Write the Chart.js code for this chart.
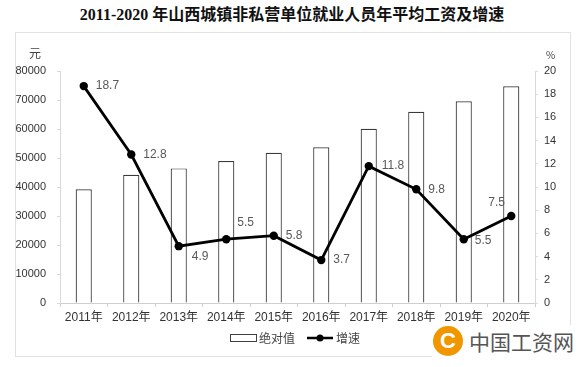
<!DOCTYPE html>
<html><head><meta charset="utf-8">
<script src="https://cdn.jsdelivr.net/npm/chart.js@4.4.1/dist/chart.umd.min.js"></script>
<style>
html,body{margin:0;padding:0;background:#fff;}
#wrap{position:relative;width:584px;height:367px;overflow:hidden;}
#title{position:absolute;left:0;top:5px;width:584px;text-align:center;font:bold 16px "Liberation Serif","Noto Sans CJK SC",serif;color:#111;line-height:20px;}
#box{position:absolute;left:15px;top:32px;width:556px;height:325px;border:1px solid #e2e2e2;box-sizing:border-box;}
#c{position:absolute;left:0;top:0;}
.ut{position:absolute;font:12px "Noto Sans CJK SC",sans-serif;color:#444;}
#wm{position:absolute;left:432px;top:325px;width:152px;height:32px;background:#fff;}
#wmc{position:absolute;left:1px;top:1px;width:30px;height:30px;border-radius:50%;background:#f29600;color:#fff;font:bold 22px "Liberation Sans",sans-serif;text-align:center;line-height:30px;}
#wmt{position:absolute;left:37px;top:2px;font:21px "Noto Sans CJK SC",sans-serif;color:#555;line-height:28px;white-space:nowrap;}
</style></head>
<body><div id="wrap">
<div id="box"></div>
<div id="title">2011-2020 年山西城镇非私营单位就业人员年平均工资及增速</div>
<canvas id="c" width="584" height="367"></canvas>
<div class="ut" style="left:29px;top:44px;">元</div>
<div class="ut" style="left:546px;top:47px;font-size:10px;">%</div>
<div id="wm"><div id="wmc">C</div><div id="wmt">中国工资网</div></div>
</div>
<script>
const categories = ['2011年','2012年','2013年','2014年','2015年','2016年','2017年','2018年','2019年','2020年'];
const wageValues = [39230, 44236, 46407, 48969, 51803, 53705, 60061, 65917, 69551, 74739];
const growthValues = [18.7, 12.8, 4.9, 5.5, 5.8, 3.7, 11.8, 9.8, 5.5, 7.5];
const seriesNames = ['绝对值', '增速'];

const labelOffsets = [[12,0],[12,0],[13,11],[11,-17],[12,0],[12,0],[13,0],[12,0],[11,1],[-23,-13]];

const labelPlugin = {
  id: 'pointLabels',
  afterDatasetsDraw(chart) {
    const ctx = chart.ctx;
    const meta = chart.getDatasetMeta(1);
    ctx.save();
    ctx.font = '12px "Liberation Sans", Arial, sans-serif';
    ctx.fillStyle = '#595959';
    ctx.textAlign = 'left';
    ctx.textBaseline = 'middle';
    meta.data.forEach((pt, i) => {
      const o = labelOffsets[i];
      ctx.fillText(String(growthValues[i]), pt.x + o[0], pt.y + o[1]);
    });
    ctx.restore();
  }
};

const legendPlugin = {
  id: 'customLegend',
  afterDraw(chart) {
    const ctx = chart.ctx;
    ctx.save();
    ctx.font = '12px "Noto Sans CJK SC", sans-serif';
    ctx.fillStyle = '#444';
    ctx.textBaseline = 'middle';
    const y = 338;
    ctx.strokeStyle = '#404040';
    ctx.lineWidth = 1;
    ctx.strokeRect(230.5, 334.5, 26, 7);
    ctx.fillText(seriesNames[0], 259, y);
    ctx.strokeStyle = '#000';
    ctx.lineWidth = 2.5;
    ctx.beginPath(); ctx.moveTo(307, y); ctx.lineTo(333, y); ctx.stroke();
    ctx.fillStyle = '#000';
    ctx.beginPath(); ctx.arc(320, y, 3.5, 0, Math.PI*2); ctx.fill();
    ctx.fillStyle = '#444';
    ctx.fillText(seriesNames[1], 336, y);
    ctx.restore();
  }
};

new Chart(document.getElementById('c'), {
  data: {
    labels: categories,
    datasets: [
      { type: 'bar', label: seriesNames[0], data: wageValues, yAxisID: 'y',
        backgroundColor: '#ffffff', borderColor: '#3a3a3a', borderWidth: 1.2,
        barPercentage: 0.34, categoryPercentage: 1.0, order: 2 },
      { type: 'line', label: seriesNames[1], data: growthValues, yAxisID: 'y1',
        borderColor: '#000', backgroundColor: '#000', borderWidth: 2.8,
        pointRadius: 4.2, pointBackgroundColor: '#000', pointBorderWidth: 0,
        tension: 0, order: 1 }
    ]
  },
  options: {
    responsive: false,
    animation: false,
    layout: { padding: { top: 71, left: 0, right: 0, bottom: 0 } },
    plugins: { legend: { display: false }, tooltip: { enabled: false }, title: { display: false } },
    scales: {
      x: {
        grid: { drawOnChartArea: false, drawTicks: true, tickLength: 4, color: '#cfcfcf', offset: true },
        border: { color: '#cfcfcf' },
        ticks: { color: '#333', font: { size: 12, family: '"Liberation Sans","Noto Sans CJK SC",sans-serif' }, padding: 3, maxRotation: 0, autoSkip: false },
        afterFit(s) { s.height = 64; }
      },
      y: {
        position: 'left', min: 0, max: 80000,
        grid: { drawOnChartArea: false, drawTicks: true, tickLength: 3, color: '#d9d9d9' },
        border: { color: '#d9d9d9' },
        ticks: { stepSize: 10000, color: '#333', font: { size: 11, family: '"Liberation Sans",Arial,sans-serif' }, padding: 11,
                 callback: (v) => String(v) },
        afterFit(s) { s.width = 60; }
      },
      y1: {
        position: 'right', min: 0, max: 20,
        grid: { drawOnChartArea: false, drawTicks: true, tickLength: 3, color: '#d9d9d9' },
        border: { color: '#d9d9d9' },
        ticks: { stepSize: 2, color: '#333', font: { size: 11, family: '"Liberation Sans",Arial,sans-serif' }, padding: 6,
                 callback: (v) => String(v) },
        afterFit(s) { s.width = 49; }
      }
    }
  },
  plugins: [labelPlugin, legendPlugin]
});
</script>
</body></html>
